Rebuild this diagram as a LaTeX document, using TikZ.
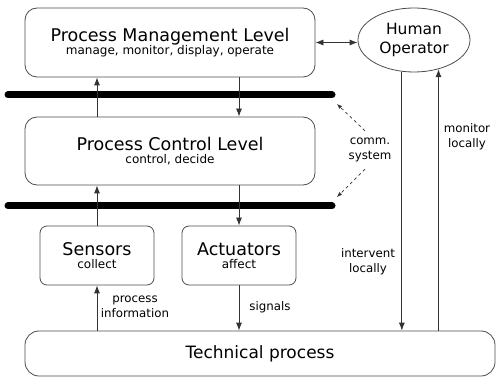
\documentclass[tikz,border=0pt]{standalone}
\usepackage{fontspec}
\setmainfont{DejaVu Sans}
\usetikzlibrary{arrows.meta,shapes.geometric}
\newcommand\ttlfont{\fontsize{17.5}{14}\selectfont}
\newcommand\subfnt{\fontsize{12}{14}\selectfont}
\newcommand\lblfnt{\fontsize{11.8}{15}\selectfont}
\begin{document}
\begin{tikzpicture}[x=1pt,y=-1pt,
  box/.style={draw=black!70,line width=0.8pt,rounded corners=12pt,align=center,inner sep=0pt,font=\ttlfont},
  smallbox/.style={box,rounded corners=7pt},
  arr/.style={draw=black!80,line width=0.8pt,-{Latex[length=8pt,width=6pt]}},
  darr/.style={draw=black!80,line width=0.8pt,{Latex[length=8pt,width=6pt]}-{Latex[length=8pt,width=6pt]}},
  dash arr/.style={draw=black!80,line width=0.7pt,dashed,dash pattern=on 3pt off 3pt,-{Latex[length=5pt,width=4pt]}},
  bus/.style={line width=7pt,line cap=round,black},
  lbl/.style={align=center,font=\lblfnt,inner sep=0pt}]
\useasboundingbox (0,0) rectangle (496,377);
% boxes
\node[box,minimum width=290pt,minimum height=69pt] (pml) at (170,42.5)
  {Process Management Level\\[-1pt]{\subfnt manage, monitor, display, operate}};
\node[box,minimum width=290pt,minimum height=68pt] (pcl) at (170,151)
  {Process Control Level\\[-1pt]{\subfnt control, decide}};
\node[smallbox,minimum width=114pt,minimum height=59pt] (sens) at (97,255.5)
  {Sensors\\[-1pt]{\subfnt collect}};
\node[smallbox,minimum width=114pt,minimum height=59pt] (act) at (239,255.5)
  {Actuators\\[-1pt]{\subfnt affect}};
\node[box,rounded corners=14pt,minimum width=470pt,minimum height=45pt,font=\fontsize{17}{20}\selectfont] (tech) at (260,353.5)
  {Technical process};
\node[draw=black!70,line width=0.8pt,ellipse,minimum width=112pt,minimum height=64pt,inner sep=0pt,align=center,font=\fontsize{15.5}{19}\selectfont] (hum) at (414,40)
  {Human\\Operator};
% buses
\coordinate (b1l) at (8,95);
\coordinate (b1r) at (332,95);
\coordinate (b2l) at (8,206);
\coordinate (b2r) at (332,206);
\draw[bus] (b1l) -- (b1r);
\draw[bus] (b2l) -- (b2r);
% vertical connectors
\draw[arr] (pcl.north -| sens) -- (pml.south -| sens);
\draw[arr] (pml.south -| act) -- (pcl.north -| act);
\draw[arr] (sens.north) -- (pcl.south -| sens);
\draw[arr] (pcl.south -| act) -- (act.north);
\draw[arr] (tech.north -| sens) -- (sens.south);
\draw[arr] (act.south) -- (tech.north -| act);
% human operator
\draw[darr] (pml.east) -- (pml.east -| hum.west);
\draw[arr] (hum.249) -- (hum.249 |- tech.north);
\draw[arr] (hum.310 |- tech.north) -- (hum.310);
% labels
\node[lbl] (pinfo) at (135,307) {process\\information};
\node[lbl] (sig) at (270,307) {signals};
\node[lbl] (iv) at (368,262) {intervent\\locally};
\node[lbl] (mon) at (467,137) {monitor\\locally};
\node[lbl] (comm) at (370,150) {comm.\\system};
\coordinate (c1) at (337,104);
\coordinate (c2) at (337,197);
\draw[dash arr] ([xshift=-5pt,yshift=7pt]comm.north) -- (c1);
\draw[dash arr] ([xshift=-5pt,yshift=-7pt]comm.south) -- (c2);
\end{tikzpicture}
\end{document}
